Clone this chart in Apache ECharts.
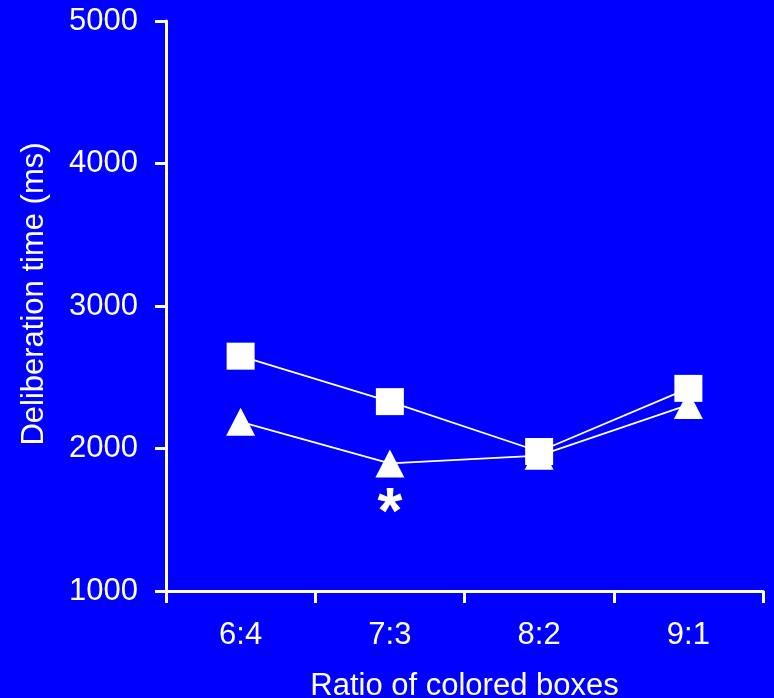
<!DOCTYPE html>
<html>
<head>
<meta charset="utf-8">
<script src="https://cdn.jsdelivr.net/npm/echarts@6/dist/echarts.min.js"></script>
<style>
html,body{margin:0;padding:0;background:#0000ff;}
#chart{width:774px;height:698px;}
</style>
</head>
<body>
<div id="chart"></div>
<script>
const categories = ['6:4', '7:3', '8:2', '9:1'];
const squareValues = [2648, 2329, 1979, 2422];
const triangleValues = [2187, 1895, 1950, 2306];
const yTicks = [1000, 2000, 3000, 4000, 5000];
const significance = { category: '7:3', value: 1530, label: '*' };

const FONT = "'Liberation Sans', Arial, sans-serif";
const WHITE = '#ffffff';

const chart = echarts.init(document.getElementById('chart'), null, { renderer: 'canvas' });
chart.setOption({
  backgroundColor: '#0000ff',
  animation: false,
  grid: { left: 166, right: 11, top: 21, bottom: 107, containLabel: false, outerBoundsMode: 'none' },
  xAxis: {
    type: 'category',
    data: categories,
    boundaryGap: true,
    name: 'Ratio of colored boxes',
    nameLocation: 'middle',
    nameGap: 80,
    nameTextStyle: { color: WHITE, fontFamily: FONT, fontSize: 31, verticalAlign: 'top' },
    axisLine: { lineStyle: { color: WHITE, width: 3 } },
    axisTick: { show: true, length: 12, lineStyle: { color: WHITE, width: 3 } },
    axisLabel: { color: WHITE, fontFamily: FONT, fontSize: 31, margin: 29 },
    splitLine: { show: false }
  },
  yAxis: {
    type: 'value',
    min: yTicks[0],
    max: yTicks[yTicks.length - 1],
    interval: 1000,
    name: 'Deliberation time (ms)',
    nameLocation: 'middle',
    nameGap: 116,
    nameTextStyle: { color: WHITE, fontFamily: FONT, fontSize: 31, padding: [0, 0, 0, 24] },
    axisLine: { show: true, lineStyle: { color: WHITE, width: 3 } },
    axisTick: { show: true, length: 11, lineStyle: { color: WHITE, width: 3 } },
    axisLabel: { color: WHITE, fontFamily: FONT, fontSize: 31, margin: 28, formatter: function (v) { return String(v); } },
    splitLine: { show: false }
  },
  series: [
    {
      name: 'triangle',
      type: 'line',
      data: triangleValues,
      symbol: 'triangle',
      symbolSize: [29, 28],
      lineStyle: { color: WHITE, width: 1.8 },
      itemStyle: { color: WHITE, borderWidth: 0 },
      z: 2,
      markPoint: {
        symbol: 'circle',
        symbolSize: 1,
        itemStyle: { color: 'rgba(0,0,0,0)' },
        label: {
          show: true,
          position: 'inside',
          formatter: significance.label,
          color: WHITE,
          fontFamily: FONT,
          fontWeight: 'bold',
          fontSize: 64
        },
        data: [{ coord: [significance.category, significance.value] }]
      }
    },
    {
      name: 'square',
      type: 'line',
      data: squareValues,
      symbol: 'rect',
      symbolSize: [28, 27],
      lineStyle: { color: WHITE, width: 1.8 },
      itemStyle: { color: WHITE, borderWidth: 0 },
      z: 3
    }
  ]
});
</script>
</body>
</html>
